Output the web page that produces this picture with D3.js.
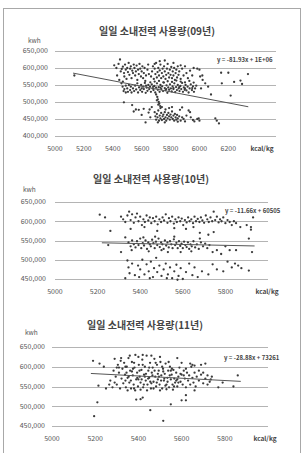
<!DOCTYPE html>
<html>
<head>
<meta charset="utf-8">
<script src="https://cdn.jsdelivr.net/npm/d3@7"></script>
<style>
  body { margin: 0; background: #fff; }
  text { font-family: "Noto Sans CJK KR", "Noto Sans", sans-serif; }
</style>
</head>
<body>
<div id="chart"></div>
<script>
// 일일 소내전력 사용량 : x = kcal/kg, y = kwh (값은 그림에서 읽은 추정치)
const titles = ["일일 소내전력 사용량(09년)", "일일 소내전력 사용량(10년)", "일일 소내전력 사용량(11년)"];
const equations = ["y = -81.93x + 1E+06", "y = -11.66x + 60505", "y = -28.88x + 73261"];

const xTicks09 = [5000, 5200, 5400, 5600, 5800, 6000, 6200];
const xTicks10 = [5000, 5200, 5400, 5600, 5800];
const xTicks11 = [5000, 5200, 5400, 5600, 5800];
const yTicks09 = [400000, 450000, 500000, 550000, 600000, 650000];
const yTicks10 = [450000, 500000, 550000, 600000, 650000];
const yTicks11 = [450000, 500000, 550000, 600000, 650000];

// trend line end points [kcal/kg, kwh]
const trend09 = [[5125, 585000], [6338, 486000]];
const trend10 = [[5220, 544000], [5937, 535800]];
const trend11 = [[5180, 583000], [5874, 563000]];

// points [kcal/kg, 천 kwh]
const pts09 = [
[5134,578],
[5410,608],[5425,600],[5440,612],[5450,625],[5455,590],[5462,597],[5470,604],[5478,585],[5480,575],[5485,610],
[5490,595],[5495,568],[5500,600],[5505,588],[5510,615],[5515,580],[5520,598],[5525,605],[5530,570],[5535,592],
[5540,585],[5545,610],[5550,600],[5555,578],[5560,590],[5565,607],[5570,565],[5575,595],[5580,582],[5585,612],
[5590,598],[5595,575],[5600,590],[5605,605],[5610,570],[5615,585],[5620,600],[5625,562],[5630,578],[5640,595],
[5645,610],[5650,582],[5430,578],[5445,565],[5460,555],[5470,560],[5490,548],
[5468,545],[5475,532],[5480,538],[5490,528],[5500,540],[5505,530],[5512,550],[5520,535],[5525,545],[5530,528],
[5540,540],[5548,532],[5555,548],[5562,537],[5570,555],[5575,528],[5582,543],[5590,535],[5596,550],[5603,530],
[5610,545],[5615,538],[5622,556],[5628,527],[5635,542],[5640,533],[5646,550],[5652,538],[5658,545],[5664,530],
[5670,552],[5676,540],[5682,535],[5688,547],[5694,528],[5700,542],[5706,555],[5712,536],[5718,544],[5724,530],
[5730,550],[5736,538],[5742,546],[5748,532],[5754,557],[5760,541],[5766,535],[5772,549],[5778,527],[5784,543],
[5790,536],[5796,552],[5802,540],[5808,531],[5814,546],[5820,538],[5826,555],[5832,529],[5838,544],[5844,535],
[5850,550],[5856,540],[5862,532],[5868,547],[5874,538],[5880,556],[5886,530],[5892,543],[5898,536],[5904,550],
[5910,534],[5918,545],[5925,528],[5932,540],[5940,552],[5948,535],[5955,546],[5962,530],[5970,540],[5978,548],
[5660,558],[5690,560],[5720,562],[5750,558],[5780,561],[5810,559],[5840,563],[5870,560],[5900,558],[5930,562],
[5960,557],[5600,540],[5630,548],[5680,545],[5730,542],[5770,538],[5820,541],[5860,544],[5900,540],[5950,541],
[5665,575],[5672,590],[5678,605],[5684,568],[5690,598],[5695,582],[5700,615],[5705,572],[5710,588],[5715,600],
[5720,578],[5725,593],[5730,610],[5735,570],[5740,585],[5745,598],[5750,575],[5755,605],[5760,590],[5765,568],
[5770,580],[5775,598],[5780,612],[5785,585],[5790,572],[5795,595],[5800,580],[5805,603],[5810,570],[5815,590],
[5820,578],[5825,600],[5830,565],[5835,585],[5840,595],[5845,572],[5850,605],[5855,580],[5860,590],[5870,568],
[5880,598],[5890,578],[5900,605],[5910,585],[5920,570],[5935,592],[5950,578],[5960,600],[5725,620],[5760,622],
[5690,612],[5820,615],[5870,608],[5985,598],[6000,595],[6005,575],[6020,578],
[5700,522],[5708,515],[5712,508],[5718,500],[5722,495],[5728,488],[5705,505],[5730,482],[5715,492],
[5477,499],[5534,491],[5545,472],[5560,478],[5580,477],[5614,480],[5627,440],[5648,469],[5600,462],[5660,455],
[5670,485],[5655,478],
[5690,470],[5695,458],[5700,448],[5705,465],[5710,455],[5715,475],[5720,445],[5725,460],[5730,452],[5735,468],
[5740,447],[5745,458],[5750,463],[5755,450],[5760,470],[5765,455],[5770,445],[5775,462],[5780,452],[5785,468],
[5790,458],[5795,448],[5800,463],[5805,455],[5810,472],[5815,450],[5820,460],[5825,445],[5830,465],[5835,455],
[5840,448],[5845,462],[5850,452],[5860,458],[5870,445],[5880,455],[5890,450],[5765,478],[5790,482],[5740,485],
[5810,485],[5712,440],[5760,440],[5850,442],
[5865,477],[5880,484],[5925,475],[5935,470],[5910,460],[5955,447],[5965,443],[5985,450],[6000,445],[5995,452],
[6110,452],[6120,445],[6135,437],[5900,443],[5940,455],
[6150,586],[6200,586],[6336,582],[6155,555],[6240,559],[6284,563],[6295,553],[6216,519],[6080,522],[6011,540],
[6040,555],[6022,565],[6060,545]
];

const pts10 = [
[5210,617],[5235,610],[5310,612],[5320,605],[5330,598],[5340,615],[5348,625],[5355,603],[5362,618],[5370,596],
[5378,610],[5385,620],[5392,600],[5400,612],[5408,590],[5415,605],[5422,598],[5430,615],[5438,602],[5445,610],
[5452,595],[5460,608],[5468,600],[5475,612],[5482,592],[5490,605],[5498,598],[5505,610],[5512,602],[5520,618],
[5528,596],[5535,608],[5542,600],[5550,612],[5558,594],[5565,605],[5572,598],[5580,610],[5588,600],[5595,607],
[5602,590],[5610,603],[5618,597],[5625,610],[5632,600],[5640,605],[5648,595],[5655,612],[5662,600],[5670,606],
[5678,598],[5685,610],[5692,602],[5700,596],[5708,615],[5715,605],[5722,598],[5730,610],[5738,600],[5745,625],
[5752,603],[5760,612],[5768,597],[5775,605],[5782,600],[5790,610],[5800,595],[5810,603],[5820,598],[5830,590],
[5840,600],[5850,595],[5870,585],[5900,590],[5920,585],[5930,610],[5355,580],[5420,585],[5480,575],[5560,582],
[5615,580],[5680,570],[5720,565],[5745,572],[5650,585],[5920,578],[5260,575],
[5250,538],[5310,520],[5330,558],[5345,545],[5355,535],[5362,550],[5370,540],[5378,532],[5385,548],[5392,538],
[5400,555],[5405,530],[5412,543],[5418,537],[5425,550],[5432,528],[5438,545],[5445,540],[5450,535],[5456,552],
[5462,543],[5468,530],[5474,547],[5480,538],[5486,555],[5492,533],[5498,545],[5504,540],[5510,528],[5516,550],
[5522,537],[5528,545],[5534,532],[5540,548],[5546,540],[5552,530],[5558,553],[5564,538],[5570,544],[5576,530],
[5582,548],[5588,536],[5594,542],[5600,530],[5606,547],[5612,538],[5618,533],[5624,545],[5630,528],[5636,540],
[5642,535],[5650,548],[5658,532],[5666,540],[5675,528],[5685,545],[5695,535],[5705,542],[5715,530],[5725,538],
[5740,520],[5760,525],[5780,515],[5800,535],[5820,525],[5850,525],[5910,555],[5925,520],[5415,558],[5470,560],
[5530,520],[5590,520],[5640,522],[5440,522],[5500,525],[5360,525],[5680,555],[5560,560],
[5330,452],[5340,498],[5345,480],[5350,465],[5362,490],[5375,460],[5390,485],[5400,475],[5410,500],[5420,462],
[5430,488],[5440,470],[5450,495],[5460,455],[5465,478],[5475,505],[5480,468],[5490,485],[5500,458],[5510,475],
[5520,490],[5530,462],[5540,480],[5550,452],[5560,470],[5570,487],[5580,458],[5590,478],[5600,450],[5615,468],
[5630,490],[5645,460],[5655,480],[5670,455],[5690,470],[5720,462],[5740,488],[5760,475],[5790,470],[5810,495],
[5830,480],[5845,490],[5860,485],[5875,478],[5910,472],[5395,455],[5445,452],[5525,452],[5575,448]
];

const pts11 = [
[5190,615],[5195,475],[5210,510],[5215,552],[5220,608],[5250,545],[5240,600],[5455,490],[5515,463],[5550,505],
[5600,515],[5620,515],[5620,528],[5390,517],[5410,518],[5420,522],[5770,548],[5840,550],[5860,578],[5790,560],
[5710,608],[5690,605],[5650,605],[5740,575],[5735,568],
[5270,565],[5280,548],[5285,590],[5290,620],[5295,575],[5300,555],[5305,605],[5310,585],[5315,545],[5318,615],
[5322,570],[5326,595],[5330,558],[5334,610],[5338,580],[5342,548],[5346,600],[5350,572],[5354,622],[5358,560],
[5362,590],[5366,545],[5370,612],[5374,578],[5378,555],[5382,598],[5386,630],[5390,568],[5394,585],[5398,550],
[5402,605],[5406,575],[5410,560],[5414,592],[5418,618],[5422,548],[5426,580],[5430,600],[5434,565],[5438,628],
[5442,555],[5446,590],[5450,572],[5454,610],[5458,545],[5462,585],[5466,598],[5470,562],[5474,620],[5478,575],
[5482,550],[5486,605],[5490,568],[5494,590],[5498,555],[5502,612],[5506,578],[5510,545],[5514,595],[5518,565],
[5522,582],[5526,608],[5530,555],[5534,572],[5538,590],[5542,548],[5546,600],[5550,568],[5554,580],[5558,555],
[5562,592],[5566,570],[5570,560],[5575,585],[5580,550],[5585,575],[5590,598],[5595,562],[5600,580],[5605,555],
[5610,590],[5615,570],[5620,548],[5625,585],[5630,565],[5635,578],[5640,555],[5645,600],[5650,572],[5655,560],
[5660,585],[5665,550],[5670,575],[5680,565],[5690,580],[5700,558],[5710,570],[5720,555],[5640,608],[5660,603],
[5600,610],[5580,622],[5500,625],[5460,628],[5420,630],[5400,625],[5360,628],[5320,622],[5300,598],[5345,585],
[5355,575],[5365,565],[5375,595],[5385,540],[5395,572],[5405,590],[5415,568],[5425,555],[5435,582],[5445,570],
[5455,562],[5465,578],[5475,590],[5485,560],[5495,575],[5505,565],[5515,588],[5525,552],[5535,562],[5545,578],
[5555,595],[5565,550],[5575,565],[5585,560],[5595,582],[5350,540],[5380,545],[5410,542],[5440,540],[5470,545],
[5500,540],[5530,543],[5560,542],[5340,565],[5370,588],[5400,568],[5430,575],[5460,558],[5490,582],[5520,570],
[5550,590],[5580,568],[5610,578],[5380,610],[5420,605],[5450,598],[5480,610],[5510,600],[5540,612],[5340,600],
[5310,598],[5290,560],[5265,555],[5680,590],[5700,585],[5720,578],[5730,562],[5660,540],[5620,595]
];

const W = 304, H = 453;
const svg = d3.select("#chart").append("svg").attr("width", W).attr("height", H);

// outer frame
svg.append("rect")
  .attr("x", 3.5).attr("y", 8.5).attr("width", 297).attr("height", 452)
  .attr("fill", "none").attr("stroke", "#a8a8a8");

const charts = [
  { title: titles[0], eq: equations[0], pts: pts09, trend: trend09, xTicks: xTicks09, yTicks: yTicks09,
    xDom: [5000, 6530], xRange: [55, 276], yDom: [400000, 650000], yRange: [136, 51],
    titleX: 157, titleY: 35, kwhX: 28, kwhY: 43, yLabX: 48, xLabY: 151, eqX: 217, eqY: 62, unitX: 262 },
  { title: titles[1], eq: equations[1], pts: pts10, trend: trend10, xTicks: xTicks10, yTicks: yTicks10,
    xDom: [5000, 6000], xRange: [55, 268], yDom: [450000, 650000], yRange: [279, 202],
    titleX: 151, titleY: 183, kwhX: 23, kwhY: 192, yLabX: 46, xLabY: 294, eqX: 225, eqY: 213, unitX: 267 },
  { title: titles[2], eq: equations[2], pts: pts11, trend: trend11, xTicks: xTicks11, yTicks: yTicks11,
    xDom: [5000, 6000], xRange: [52, 268], yDom: [450000, 650000], yRange: [426, 347],
    titleX: 145, titleY: 329, kwhX: 25, kwhY: 335, yLabX: 45, xLabY: 441, eqX: 224, eqY: 360, unitX: 265 }
];

const fmt = d3.format(",");

charts.forEach(c => {
  const g = svg.append("g");
  const x = d3.scaleLinear().domain(c.xDom).range(c.xRange);
  const y = d3.scaleLinear().domain(c.yDom).range(c.yRange);

  // title
  g.append("text")
    .attr("x", c.titleX).attr("y", c.titleY)
    .attr("text-anchor", "middle")
    .style("font-size", "10px").style("font-weight", "bold")
    .attr("fill", "#444")
    .text(c.title);

  g.append("text")
    .attr("x", c.kwhX).attr("y", c.kwhY)
    .style("font-size", "6.5px").attr("fill", "#555")
    .text("kwh");

  // gridlines
  g.selectAll("line.grid")
    .data(c.yTicks)
    .enter()
    .append("line")
    .attr("class", "grid")
    .attr("x1", c.xRange[0]).attr("x2", c.xRange[1])
    .attr("y1", d => Math.round(y(d)) + 0.5)
    .attr("y2", d => Math.round(y(d)) + 0.5)
    .attr("stroke", "#b4b4b4").attr("stroke-width", 1);

  // y labels
  g.selectAll("text.ylab")
    .data(c.yTicks)
    .enter()
    .append("text")
    .attr("class", "ylab")
    .attr("x", c.yLabX).attr("y", d => y(d))
    .attr("dy", "0.35em")
    .attr("text-anchor", "end")
    .style("font-size", "7px").attr("fill", "#555")
    .text(d => fmt(d));

  // x labels
  g.selectAll("text.xlab")
    .data(c.xTicks)
    .enter()
    .append("text")
    .attr("class", "xlab")
    .attr("x", d => x(d)).attr("y", c.xLabY)
    .attr("text-anchor", "middle")
    .style("font-size", "7px").attr("fill", "#555")
    .text(d => d);

  g.append("text")
    .attr("x", c.unitX).attr("y", c.xLabY)
    .attr("text-anchor", "middle")
    .style("font-size", "6.5px").style("font-weight", "bold")
    .attr("fill", "#444")
    .text("kcal/kg");

  // points
  g.selectAll("circle")
    .data(c.pts)
    .enter()
    .append("circle")
    .attr("cx", d => x(d[0]))
    .attr("cy", d => y(d[1] * 1000))
    .attr("r", 1.15)
    .attr("fill", "#3a3a3a");

  // trend line
  g.append("line")
    .attr("x1", x(c.trend[0][0])).attr("y1", y(c.trend[0][1]))
    .attr("x2", x(c.trend[1][0])).attr("y2", y(c.trend[1][1]))
    .attr("stroke", "#555").attr("stroke-width", 1);

  g.append("text")
    .attr("x", c.eqX).attr("y", c.eqY)
    .style("font-size", "6px").style("font-weight", "bold")
    .attr("fill", "#444")
    .text(c.eq);
});
</script>
</body>
</html>
